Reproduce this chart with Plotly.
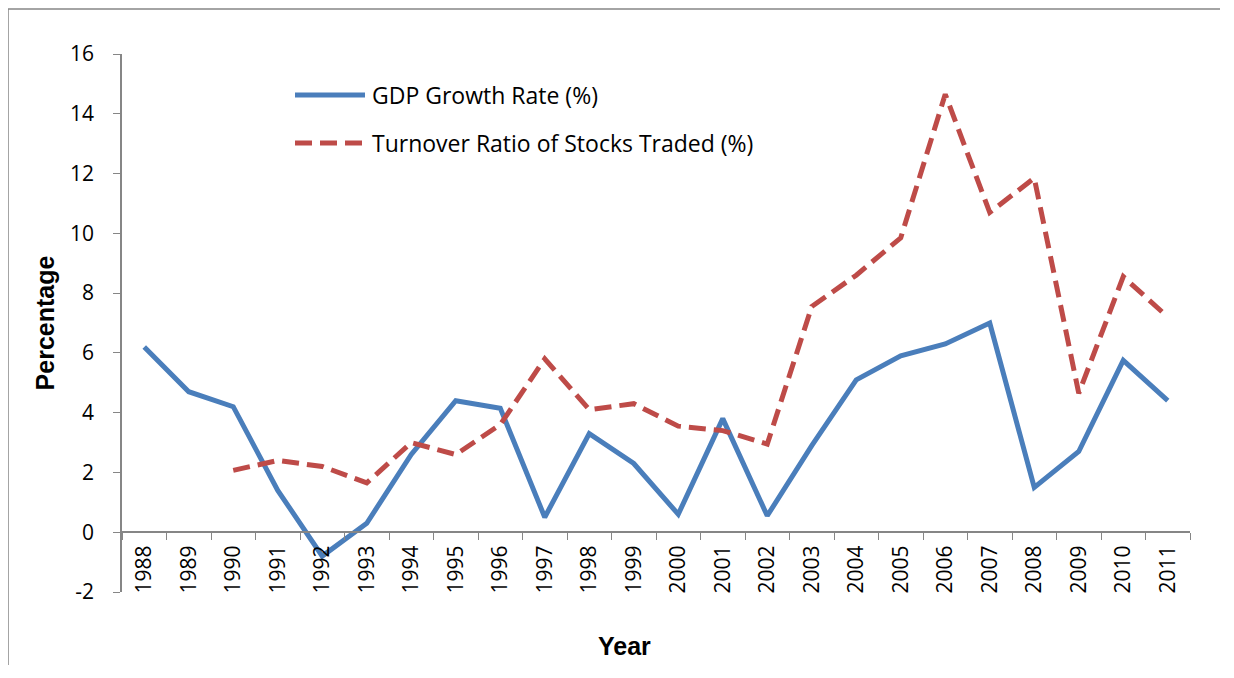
import plotly.graph_objects as go

# Data
years = [str(y) for y in range(1988, 2012)]
gdp_growth = [6.2, 4.7, 4.2, 1.4, -0.8, 0.3, 2.6, 4.4, 4.15, 0.5, 3.3, 2.3,
              0.6, 3.8, 0.55, 2.9, 5.1, 5.9, 6.3, 7.0, 1.5, 2.7, 5.75, 4.4]
turnover_years = years[2:]
turnover_ratio = [2.07, 2.4, 2.2, 1.65, 3.0, 2.6, 3.6, 5.8, 4.1, 4.3, 3.55,
                  3.4, 2.95, 7.55, 8.6, 9.85, 14.65, 10.7, 11.85, 4.65, 8.55, 7.2]
y_ticks = [-2, 0, 2, 4, 6, 8, 10, 12, 14, 16]
legend_names = ["GDP Growth Rate (%)", "Turnover Ratio of Stocks Traded (%)"]

BLUE = "#4A7EBB"
RED = "#BE4B48"
AXIS_GREY = "#868686"
DASH = "17px,8px"

# page has an 8px body margin, so the figure is a bit smaller than the window
FIG_W, FIG_H = 1218, 662
PLOT_W, PLOT_H = 1068, 538


def px_x(px):
    # window pixel -> paper x
    return (px - 122) / PLOT_W


def px_y(px):
    # window pixel -> paper y
    return 1 - (px - 54) / PLOT_H


fig = go.Figure()

fig.add_trace(go.Scatter(
    x=years, y=gdp_growth, mode="lines", name=legend_names[0],
    line=dict(color=BLUE, width=5), showlegend=False
))
fig.add_trace(go.Scatter(
    x=turnover_years, y=turnover_ratio, mode="lines", name=legend_names[1],
    line=dict(color=RED, width=5, dash=DASH), showlegend=False
))

# Excel-style legend drawn by hand (longer line samples than plotly's own)
for name, color, dash, ly in zip(legend_names, [BLUE, RED], ["solid", DASH], [95, 143]):
    fig.add_shape(type="line", xref="paper", yref="paper",
                  x0=px_x(295), x1=px_x(365), y0=px_y(ly), y1=px_y(ly),
                  line=dict(color=color, width=5, dash=dash))
    fig.add_annotation(text=name, xref="paper", yref="paper",
                       x=px_x(370), y=px_y(ly), xanchor="left", yanchor="middle",
                       showarrow=False, font=dict(family="Open Sans", size=23, color="black"))

# outer chart border: only its left and top edges fall inside the picture
fig.add_shape(type="line", xref="paper", yref="paper",
              x0=px_x(8), x1=px_x(8), y0=px_y(665), y1=px_y(9),
              line=dict(color=AXIS_GREY, width=1.5), layer="below")
fig.add_shape(type="line", xref="paper", yref="paper",
              x0=px_x(8), x1=px_x(1220), y0=px_y(9), y1=px_y(9),
              line=dict(color=AXIS_GREY, width=1.5), layer="below")

fig.add_annotation(text="<b>Year</b>", xref="paper", yref="paper",
                   x=px_x(624), y=px_y(646),
                   xanchor="center", yanchor="middle", showarrow=False,
                   font=dict(family="Liberation Sans", size=25, color="black"))

fig.update_layout(
    width=FIG_W, height=FIG_H,
    margin=dict(l=114, r=36, t=46, b=78),
    paper_bgcolor="white", plot_bgcolor="white",
    font=dict(family="Open Sans", size=21, color="black"),
    xaxis=dict(
        type="category", categoryorder="array", categoryarray=years,
        range=[-0.5, len(years) - 0.5],
        anchor="free", position=2 / 18,
        showline=True, linecolor=AXIS_GREY, linewidth=1.5,
        ticks="outside", tickson="boundaries", ticklen=7, tickcolor=AXIS_GREY,
        tickangle=-90, ticklabelstandoff=4,
        tickfont=dict(family="Open Sans", size=21),
        showgrid=False, zeroline=False,
    ),
    yaxis=dict(
        range=[-2, 16], tickmode="array",
        tickvals=y_ticks, ticktext=[str(v) for v in y_ticks],
        showline=True, linecolor=AXIS_GREY, linewidth=1.5,
        ticks="outside", ticklen=7, tickcolor=AXIS_GREY,
        ticklabelstandoff=15,
        tickfont=dict(family="Open Sans", size=21),
        showgrid=False, zeroline=False,
        title=dict(text="<b>Percentage</b>", standoff=8,
                   font=dict(family="Liberation Sans", size=25)),
    ),
)

fig.write_html("out.html")
